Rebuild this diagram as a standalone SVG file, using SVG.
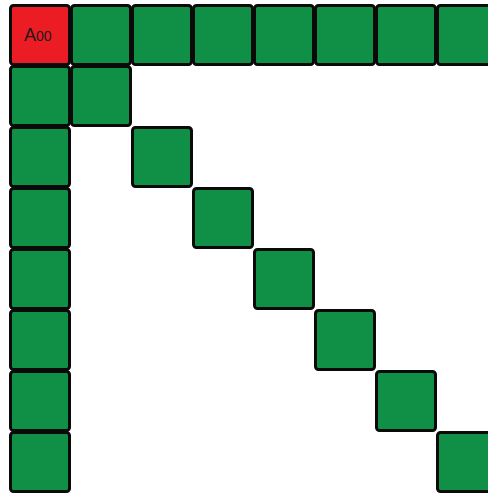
<svg xmlns="http://www.w3.org/2000/svg" width="488" height="495" viewBox="0 0 488 495">
<style>
.c{fill:#0f9046;stroke:#0a0a0a;stroke-width:3}
.r{fill:#ec1c24;stroke:#0a0a0a;stroke-width:3}
.t{font-family:"Liberation Sans",Arial,sans-serif;fill:#1a1a1a}
</style>
<rect width="488" height="495" fill="#ffffff"/>
<g id="cell-0-0"><rect class="r" x="10.5" y="5.5" width="59" height="59" rx="3"/><text class="t" x="24" y="41" font-size="18">A<tspan font-size="14">00</tspan></text></g>
<g id="row0">
<g id="cell-0-1"><rect class="c" x="71.5" y="5.5" width="59" height="59" rx="3"/></g>
<g id="cell-0-2"><rect class="c" x="132.5" y="5.5" width="59" height="59" rx="3"/></g>
<g id="cell-0-3"><rect class="c" x="193.5" y="5.5" width="59" height="59" rx="3"/></g>
<g id="cell-0-4"><rect class="c" x="254.5" y="5.5" width="59" height="59" rx="3"/></g>
<g id="cell-0-5"><rect class="c" x="315.5" y="5.5" width="59" height="59" rx="3"/></g>
<g id="cell-0-6"><rect class="c" x="376.5" y="5.5" width="59" height="59" rx="3"/></g>
<g id="cell-0-7"><rect class="c" x="437.5" y="5.5" width="59" height="59" rx="3"/></g>
</g>
<g id="col0">
<g id="cell-1-0"><rect class="c" x="10.5" y="66.5" width="59" height="59" rx="3"/></g>
<g id="cell-2-0"><rect class="c" x="10.5" y="127.5" width="59" height="59" rx="3"/></g>
<g id="cell-3-0"><rect class="c" x="10.5" y="188.5" width="59" height="59" rx="3"/></g>
<g id="cell-4-0"><rect class="c" x="10.5" y="249.5" width="59" height="59" rx="3"/></g>
<g id="cell-5-0"><rect class="c" x="10.5" y="310.5" width="59" height="59" rx="3"/></g>
<g id="cell-6-0"><rect class="c" x="10.5" y="371.5" width="59" height="59" rx="3"/></g>
<g id="cell-7-0"><rect class="c" x="10.5" y="432.5" width="59" height="59" rx="3"/></g>
</g>
<g id="diag">
<g id="cell-1-1"><rect class="c" x="71.5" y="66.5" width="59" height="59" rx="3"/></g>
<g id="cell-2-2"><rect class="c" x="132.5" y="127.5" width="59" height="59" rx="3"/></g>
<g id="cell-3-3"><rect class="c" x="193.5" y="188.5" width="59" height="59" rx="3"/></g>
<g id="cell-4-4"><rect class="c" x="254.5" y="249.5" width="59" height="59" rx="3"/></g>
<g id="cell-5-5"><rect class="c" x="315.5" y="310.5" width="59" height="59" rx="3"/></g>
<g id="cell-6-6"><rect class="c" x="376.5" y="371.5" width="59" height="59" rx="3"/></g>
<g id="cell-7-7"><rect class="c" x="437.5" y="432.5" width="59" height="59" rx="3"/></g>
</g>
</svg>
